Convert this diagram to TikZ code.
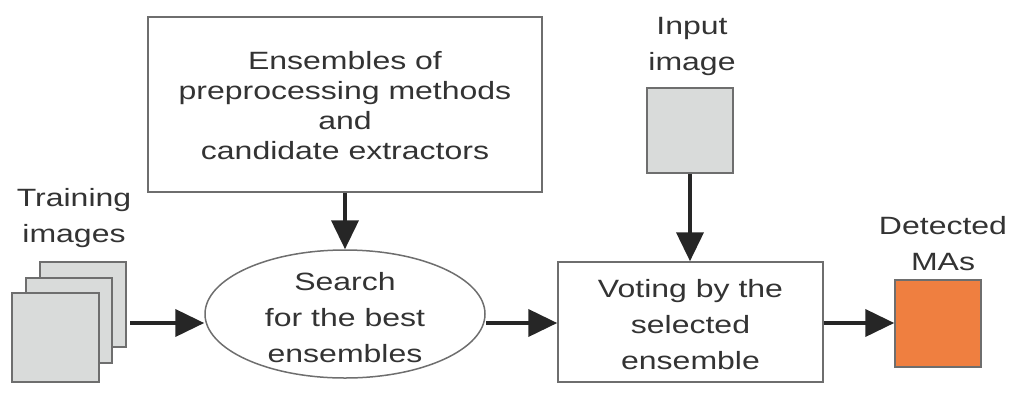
\documentclass[tikz,border=0pt]{standalone}
\usepackage{fontspec}
\setmainfont{Liberation Sans}
\newfontfamily\widesans[FakeStretch=1.28]{Liberation Sans}
\usetikzlibrary{arrows.meta,shapes.geometric}
\definecolor{txt}{HTML}{333333}
\definecolor{edge}{HTML}{6E6E6E}
\definecolor{imgfill}{HTML}{D9DBDA}
\definecolor{maorange}{HTML}{EF7F40}
\tikzset{
  lbl/.style={text=txt,align=center,font=\widesans\fontsize{25}{36}\selectfont,inner sep=0pt},
  procbox/.style={draw=edge,line width=1.5pt,fill=white},
  imgsq/.style={draw=edge,line width=1.5pt,fill=imgfill},
  flow/.style={draw=black!85,line width=4pt,-{Triangle[length=29pt,width=27pt]}},
}
\begin{document}
\begin{tikzpicture}[x=1pt,y=-1pt]
\useasboundingbox (0,0) rectangle (1010,392);
% top box
\node (topbox) [procbox,minimum width=394pt,minimum height=175pt,inner sep=0pt] at (345,104.5) {};
\node[lbl,font=\widesans\fontsize{25}{30}\selectfont] at (345,106) {Ensembles of\\preprocessing methods\\and\\candidate extractors};
% ellipse
\node (search) [ellipse,draw=edge,line width=1.5pt,minimum width=280pt,minimum height=128pt,inner sep=0pt] at (345,314) {};
\node[lbl] at (345,318) {Search\\for the best\\ensembles};
% training images stack
\draw[imgsq] (40,262) rectangle (126,347);
\draw[imgsq] (26,278) rectangle (112,363);
\draw[imgsq] (12,293) rectangle (99,382);
\coordinate (stackout) at (130,323);
\node[lbl] at (74,218) {Training\\images};
% voting box
\node (vote) [procbox,minimum width=265pt,minimum height=120pt,inner sep=0pt] at (690.5,322) {};
\node[lbl] at (690.5,325) {Voting by the\\selected\\ensemble};
% input image
\node (input) [imgsq,minimum width=86pt,minimum height=85pt,inner sep=0pt] at (690,130.5) {};
\node[lbl] at (692,46) {Input\\image};
% detected
\node (det) [draw=edge,line width=1.5pt,fill=maorange,minimum width=86pt,minimum height=87pt,inner sep=0pt] at (938,323.5) {};
\node[lbl] at (943,244) {Detected\\MAs};
% arrows
\draw[flow] (topbox.south) -- (search.north);
\draw[flow] (stackout) -- (search.west |- stackout);
\draw[flow] (search.east |- stackout) -- (vote.west |- stackout);
\draw[flow] (input.south) -- (vote.north -| input.south);
\draw[flow] (vote.east |- stackout) -- (det.west |- stackout);
\end{tikzpicture}
\end{document}
